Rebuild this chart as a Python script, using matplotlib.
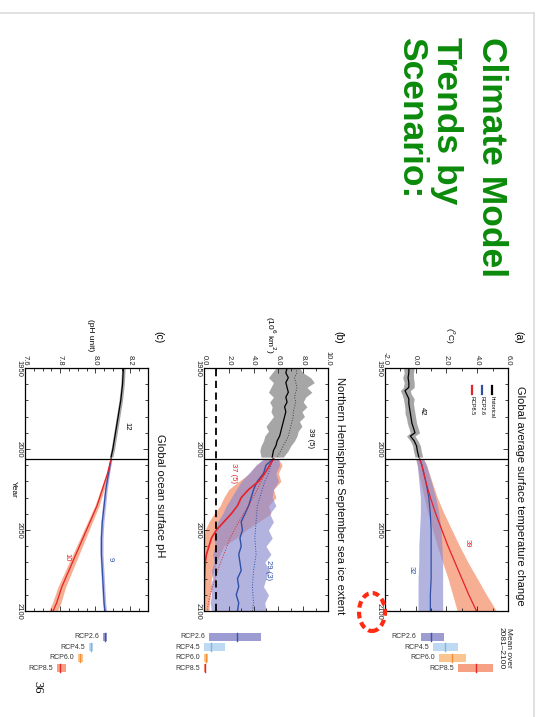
import matplotlib.pyplot as plt
from matplotlib.patches import Ellipse
from matplotlib.lines import Line2D
from matplotlib.ticker import MultipleLocator, FormatStrFormatter

plt.rcParams['font.family'] = ['Liberation Sans', 'DejaVu Sans']

W, H = 540, 717

# (a) global mean surface temperature change (degC, rel. 1986-2005)
hist_years_a = [1950, 1953, 1956, 1959, 1962, 1964, 1966, 1969, 1972, 1975, 1978, 1981,
                1984, 1987, 1990, 1992, 1995, 1998, 2001, 2005]
hist_temp = [-0.45, -0.45, -0.5, -0.45, -0.45, -0.7, -0.6, -0.45, -0.45, -0.4, -0.35, -0.3,
             -0.25, -0.15, -0.05, -0.35, -0.1, 0.05, 0.1, 0.2]
hist_temp_lo = [-0.8, -0.75, -0.85, -0.75, -0.8, -1.0, -0.9, -0.8, -0.75, -0.7, -0.7, -0.6,
                -0.55, -0.45, -0.35, -0.6, -0.35, -0.2, -0.15, -0.05]
hist_temp_hi = [-0.1, -0.15, -0.15, -0.1, -0.1, -0.35, -0.3, -0.1, -0.15, -0.1, -0.05, 0.0,
                0.05, 0.15, 0.25, -0.05, 0.15, 0.3, 0.35, 0.45]

proj_years_a = [2006, 2010, 2020, 2030, 2040, 2050, 2060, 2070, 2080, 2090, 2100]
rcp26_temp = [0.25, 0.4, 0.65, 0.85, 0.95, 1.0, 1.0, 1.0, 1.0, 0.95, 0.95]
rcp26_temp_lo = [0.0, 0.1, 0.2, 0.3, 0.3, 0.25, 0.2, 0.2, 0.15, 0.15, 0.15]
rcp26_temp_hi = [0.5, 0.7, 1.0, 1.3, 1.5, 1.65, 1.7, 1.75, 1.75, 1.75, 1.75]
rcp85_temp = [0.25, 0.4, 0.65, 0.95, 1.3, 1.7, 2.1, 2.55, 3.0, 3.45, 3.95]
rcp85_temp_lo = [0.0, 0.1, 0.3, 0.55, 0.8, 1.1, 1.4, 1.75, 2.1, 2.4, 2.7]
rcp85_temp_hi = [0.5, 0.7, 1.05, 1.4, 1.85, 2.35, 2.85, 3.4, 4.0, 4.6, 5.25]

# (b) NH September sea ice extent (10^6 km2)
hist_years_b = [1950, 1953, 1956, 1959, 1962, 1965, 1968, 1971, 1974, 1977, 1980, 1983,
                1986, 1989, 1992, 1995, 1998, 2001, 2005]
hist_ice = [6.7, 6.6, 6.8, 6.6, 6.7, 6.8, 6.6, 6.7, 6.5, 6.6, 6.5, 6.4,
            6.3, 6.2, 6.1, 5.9, 5.8, 5.6, 5.5]
hist_ice_sub = [7.4, 7.5, 7.3, 7.4, 7.5, 7.4, 7.3, 7.4, 7.3, 7.2, 7.2, 7.1,
                7.0, 6.9, 6.8, 6.6, 6.4, 6.2, 5.9]
hist_ice_lo = [5.8, 5.5, 5.2, 5.6, 5.4, 5.2, 5.6, 5.3, 5.5, 5.4, 5.6, 5.3,
               5.0, 5.2, 4.9, 4.8, 4.6, 4.5, 4.6]
hist_ice_hi = [7.7, 8.0, 8.6, 8.9, 8.3, 8.7, 8.2, 8.0, 8.3, 7.9, 8.1, 7.7,
               7.9, 7.6, 7.5, 7.3, 7.0, 6.8, 6.4]

proj_years_b = [2006, 2010, 2015, 2020, 2025, 2030, 2035, 2040, 2045, 2050,
                2055, 2060, 2065, 2070, 2075, 2080, 2085, 2090, 2095, 2100]
rcp26_ice = [5.6, 5.0, 4.8, 4.3, 4.0, 3.8, 3.6, 3.3, 3.0, 3.1,
             2.9, 3.0, 2.8, 2.9, 3.0, 2.7, 2.8, 2.6, 2.8, 2.7]
rcp26_ice_sub = [5.6, 5.4, 5.2, 4.9, 4.7, 4.5, 4.3, 4.25, 4.2, 4.15,
                 4.1, 4.15, 4.2, 4.1, 4.0, 3.95, 3.9, 3.95, 4.0, 3.9]
rcp26_ice_lo = [4.8, 4.2, 3.6, 3.0, 2.6, 2.2, 1.8, 1.5, 1.1, 0.9,
                0.8, 0.9, 0.7, 0.8, 0.6, 0.7, 0.5, 0.6, 0.5, 0.6]
rcp26_ice_hi = [6.0, 6.1, 5.8, 6.0, 5.6, 5.5, 5.8, 5.3, 5.6, 5.2,
                5.5, 5.0, 5.4, 4.9, 5.3, 5.0, 4.8, 5.2, 4.9, 5.0]
rcp85_ice = [5.6, 5.3, 4.9, 4.4, 3.6, 3.0, 2.7, 2.2, 1.6, 1.0,
             0.6, 0.4, 0.2, 0.1, 0.07, 0.05, 0.03, 0.02, 0.01, 0.0]
rcp85_ice_sub = [5.6, 5.3, 4.9, 4.6, 4.3, 3.95, 3.6, 3.2, 2.8, 2.45,
                 2.1, 1.85, 1.6, 1.35, 1.1, 0.9, 0.7, 0.5, 0.35, 0.25]
rcp85_ice_lo = [4.9, 4.2, 3.7, 2.8, 2.0, 1.6, 1.3, 0.8, 0.4, 0.1,
                0.0, 0.0, 0.0, 0.0, 0.0, 0.0, 0.0, 0.0, 0.0, 0.0]
rcp85_ice_hi = [6.0, 6.3, 6.0, 6.2, 5.6, 5.8, 5.2, 5.4, 4.4, 3.4,
                2.6, 1.6, 1.3, 1.0, 0.8, 0.6, 0.55, 0.5, 0.45, 0.4]
ice_free = 1.0

# (c) global ocean surface pH
hist_years_c = [1950, 1960, 1970, 1980, 1990, 2000, 2005]
hist_ph = [8.16, 8.155, 8.145, 8.13, 8.115, 8.1, 8.09]
hist_ph_lo = [8.15, 8.145, 8.135, 8.12, 8.105, 8.09, 8.08]
hist_ph_hi = [8.17, 8.165, 8.155, 8.14, 8.125, 8.11, 8.1]

proj_years_c = [2006, 2015, 2025, 2035, 2045, 2055, 2065, 2075, 2085, 2095, 2100]
rcp26_ph = [8.09, 8.075, 8.06, 8.05, 8.04, 8.035, 8.035, 8.04, 8.045, 8.05, 8.055]
rcp26_ph_lo = [8.085, 8.068, 8.052, 8.041, 8.031, 8.026, 8.026, 8.031, 8.036, 8.041, 8.046]
rcp26_ph_hi = [8.095, 8.082, 8.068, 8.059, 8.049, 8.044, 8.044, 8.049, 8.054, 8.059, 8.064]
rcp85_ph = [8.09, 8.07, 8.04, 8.01, 7.97, 7.93, 7.89, 7.85, 7.81, 7.78, 7.76]
rcp85_ph_lo = [8.085, 8.062, 8.03, 7.998, 7.956, 7.914, 7.872, 7.83, 7.788, 7.756, 7.735]
rcp85_ph_hi = [8.095, 8.078, 8.05, 8.022, 7.984, 7.946, 7.908, 7.87, 7.832, 7.804, 7.785]

# 2081-2100 means (low, mid, high) per scenario
scenarios = ['RCP2.6', 'RCP4.5', 'RCP6.0', 'RCP8.5']
temp_mean_lo = [0.3, 1.1, 1.5, 2.7]
temp_mean_mid = [1.0, 1.9, 2.3, 3.9]
temp_mean_hi = [1.8, 2.7, 3.2, 5.0]
ice_mean_lo = [0.4, 0.0, 0.0, 0.0]
ice_mean_mid = [2.7, 0.55, 0.15, 0.05]
ice_mean_hi = [4.6, 1.7, 0.3, 0.1]
ph_mean_lo = [8.04, 7.96, 7.90, 7.78]
ph_mean_mid = [8.05, 7.97, 7.913, 7.80]
ph_mean_hi = [8.063, 7.985, 7.926, 7.83]

BLUE = '#3050a8'
RED = '#e62228'
BAND_BLUE = '#8a8ad0'
BAND_RED = '#f3946f'
GREY = '#a6a6a6'
bar_colors = ['#9c9cd3', '#bddaf2', '#fbc592', '#f6a184']
mid_colors = ['#3a55a8', '#7fb5e4', '#f39035', '#e3262b']


def px_axes(fig, left, top, width, height):
    return fig.add_axes([left / W, 1 - (top + height) / H, width / W, height / H])


def setup_panel(ax, xlim, major, minor):
    ax.set_xlim(*xlim)
    ax.set_ylim(2100, 1950)
    ax.xaxis.set_major_locator(MultipleLocator(major))
    ax.xaxis.set_minor_locator(MultipleLocator(minor))
    ax.xaxis.set_major_formatter(FormatStrFormatter('%.1f'))
    ax.yaxis.set_major_locator(MultipleLocator(50))
    ax.yaxis.set_minor_locator(MultipleLocator(10))
    ax.tick_params(which='both', direction='in', top=True, bottom=True,
                   left=True, right=True, labeltop=True, labelbottom=False,
                   width=0.6, labelsize=5.5, pad=2, colors='#222222')
    ax.tick_params(which='major', length=3.5)
    ax.tick_params(which='minor', length=2)
    ax.tick_params(axis='both', labelrotation=-90)
    plt.setp(ax.get_yticklabels(), va='center')
    for s in ax.spines.values():
        s.set_linewidth(0.9)
    ax.axhline(2006, color='k', lw=0.9, zorder=5)


def panel_text(ax, tag, title, unit):
    ax.annotate(title, xy=(1, 0.475), xycoords='axes fraction', xytext=(5, 0),
                textcoords='offset points', rotation=-90, ha='left', va='center',
                fontsize=8, color='#111111')
    ax.text(1.085, 1.125, tag, transform=ax.transAxes, rotation=-90,
            ha='center', va='center', fontsize=7.5)
    ax.text(0.53, 1.135, unit, transform=ax.transAxes, rotation=-90,
            ha='center', va='center', fontsize=6)


def mean_bars(fig, left, xlim, lo, mid, hi):
    axb = px_axes(fig, left, 631.5, 124, 42)
    axb.set_xlim(*xlim)
    axb.set_ylim(4.5, 0.5)
    axb.axis('off')
    rows = [1, 2, 3, 4]
    widths = [h - l for l, h in zip(lo, hi)]
    axb.barh(rows, widths, left=lo, height=0.72, color=bar_colors, lw=0)
    for r, m, c in zip(rows, mid, mid_colors):
        axb.plot([m, m], [r - 0.36, r + 0.36], color=c, lw=1.0)
    for r, l, name in zip(rows, lo, scenarios):
        axb.annotate(name, xy=(l, r), xytext=(-3, 0), textcoords='offset points',
                     ha='right', va='center', fontsize=5, color='#333333')
    return axb


fig = plt.figure(figsize=(W / 100, H / 100), dpi=100)

# ---- (a) temperature ----
ax_a = px_axes(fig, 385, 368, 123, 243)
setup_panel(ax_a, (-2, 6), 2, 1)
ax_a.fill_betweenx(hist_years_a, hist_temp_lo, hist_temp_hi, color=GREY, lw=0)
ax_a.fill_betweenx(proj_years_a, rcp85_temp_lo, rcp85_temp_hi, color=BAND_RED, alpha=0.75, lw=0)
ax_a.fill_betweenx(proj_years_a, rcp26_temp_lo, rcp26_temp_hi, color=BAND_BLUE, alpha=0.65, lw=0)
ax_a.plot(hist_temp, hist_years_a, color='k', lw=0.9)
ax_a.plot(rcp26_temp, proj_years_a, color=BLUE, lw=0.9)
ax_a.plot(rcp85_temp, proj_years_a, color=RED, lw=0.9)
ax_a.text(0.45, 1977, '42', rotation=-90, ha='center', va='center', fontsize=5.5)
ax_a.text(3.35, 2058, '39', rotation=-90, ha='center', va='center', fontsize=5.5, color=RED)
ax_a.text(-0.3, 2075, '32', rotation=-90, ha='center', va='center', fontsize=5.5, color=BLUE)
for i, (name, c) in enumerate([('historical', 'k'), ('RCP2.6', BLUE), ('RCP8.5', RED)]):
    xf = 0.867 - i * 0.081
    ax_a.plot([xf, xf], [0.925, 0.893], transform=ax_a.transAxes, color=c, lw=1.6)
    ax_a.text(xf, 0.883, name, transform=ax_a.transAxes, rotation=-90,
              ha='center', va='top', fontsize=4)
panel_text(ax_a, '(a)', 'Global average surface temperature change', '($^{o}$C)')
mean_bars(fig, 385, (-2, 6), temp_mean_lo, temp_mean_mid, temp_mean_hi)
fig.text(505 / W, 1 - 627 / H, 'Mean over\n2081\u20132100', rotation=-90,
         ha='center', va='top', fontsize=6, linespacing=1.0, color='#222222')

# ---- (b) sea ice ----
ax_b = px_axes(fig, 204, 368, 124, 243)
setup_panel(ax_b, (0, 10), 2, 1)
ax_b.fill_betweenx(hist_years_b, hist_ice_lo, hist_ice_hi, color=GREY, lw=0)
ax_b.fill_betweenx(proj_years_b, rcp85_ice_lo, rcp85_ice_hi, color=BAND_RED, alpha=0.75, lw=0)
ax_b.fill_betweenx(proj_years_b, rcp26_ice_lo, rcp26_ice_hi, color=BAND_BLUE, alpha=0.65, lw=0)
ax_b.plot(hist_ice, hist_years_b, color='k', lw=0.9)
ax_b.plot(hist_ice_sub, hist_years_b, color='#444444', lw=0.7, ls=':')
ax_b.plot(rcp26_ice, proj_years_b, color=BLUE, lw=1.0)
ax_b.plot(rcp26_ice_sub, proj_years_b, color=BLUE, lw=0.7, ls=':')
ax_b.plot(rcp85_ice, proj_years_b, color=RED, lw=1.2)
ax_b.plot(rcp85_ice_sub, proj_years_b, color=RED, lw=0.7, ls=':')
ax_b.axvline(ice_free, color='k', lw=1.3, ls=(0, (4, 2.5)), zorder=4)
ax_b.text(8.55, 1993, '39 (5)', rotation=-90, ha='center', va='center', fontsize=5.5)
ax_b.text(2.4, 2015, '37 (5)', rotation=-90, ha='center', va='center', fontsize=5.5, color=RED)
ax_b.text(5.2, 2075, '29 (3)', rotation=-90, ha='center', va='center', fontsize=5.5, color=BLUE)
panel_text(ax_b, '(b)', 'Northern Hemisphere September sea ice extent',
           '(10$^{6}$ km$^{2}$)')
mean_bars(fig, 204, (0, 10), ice_mean_lo, ice_mean_mid, ice_mean_hi)

# ---- (c) ocean pH ----
ax_c = px_axes(fig, 25, 368, 123, 243)
setup_panel(ax_c, (7.6, 8.3), 0.2, 0.05)
ax_c.fill_betweenx(hist_years_c, hist_ph_lo, hist_ph_hi, color=GREY, lw=0)
ax_c.fill_betweenx(proj_years_c, rcp85_ph_lo, rcp85_ph_hi, color=BAND_RED, alpha=0.75, lw=0)
ax_c.fill_betweenx(proj_years_c, rcp26_ph_lo, rcp26_ph_hi, color=BAND_BLUE, alpha=0.65, lw=0)
ax_c.plot(hist_ph, hist_years_c, color='k', lw=0.9)
ax_c.plot(rcp26_ph, proj_years_c, color=BLUE, lw=0.9)
ax_c.plot(rcp85_ph, proj_years_c, color=RED, lw=0.9)
ax_c.text(8.18, 1986, '12', rotation=-90, ha='center', va='center', fontsize=5.5)
ax_c.text(7.84, 2067, '10', rotation=-90, ha='center', va='center', fontsize=5.5, color=RED)
ax_c.text(8.085, 2068, '9', rotation=-90, ha='center', va='center', fontsize=5.5, color=BLUE)
panel_text(ax_c, '(c)', 'Global ocean surface pH', '(pH unit)')
ax_c.set_ylabel('Year', rotation=-90, fontsize=6, labelpad=4)
mean_bars(fig, 25, (7.6, 8.3), ph_mean_lo, ph_mean_mid, ph_mean_hi)

# slide title
title_lines = ['Climate Model', 'Trends by', 'Scenario:']
title_right = [508, 463, 428]
for line, xr in zip(title_lines, title_right):
    fig.text(xr / W, 1 - 37 / H, line, rotation=-90, ha='right', va='top',
             fontsize=25.5, fontweight='bold', color='#0b8a0b')

# highlight ring around the final year
fig.add_artist(Ellipse((372 / W, 1 - 612 / H), 26 / W, 38 / H, transform=fig.transFigure,
                       fill=False, edgecolor='#ff2a12', lw=3, ls=(0, (1.6, 1.0))))

# page frame and number
fig.add_artist(Line2D([0, 534 / W], [1 - 13 / H, 1 - 13 / H], color='#dcdcdc', lw=1.2))
fig.add_artist(Line2D([534 / W, 534 / W], [1 - 13 / H, 0], color='#dcdcdc', lw=1.2))
fig.text(37 / W, 1 - 687 / H, '36', rotation=-90, ha='center', va='center',
         fontsize=9, family='Liberation Serif')

fig.savefig('out.png', dpi=100)
